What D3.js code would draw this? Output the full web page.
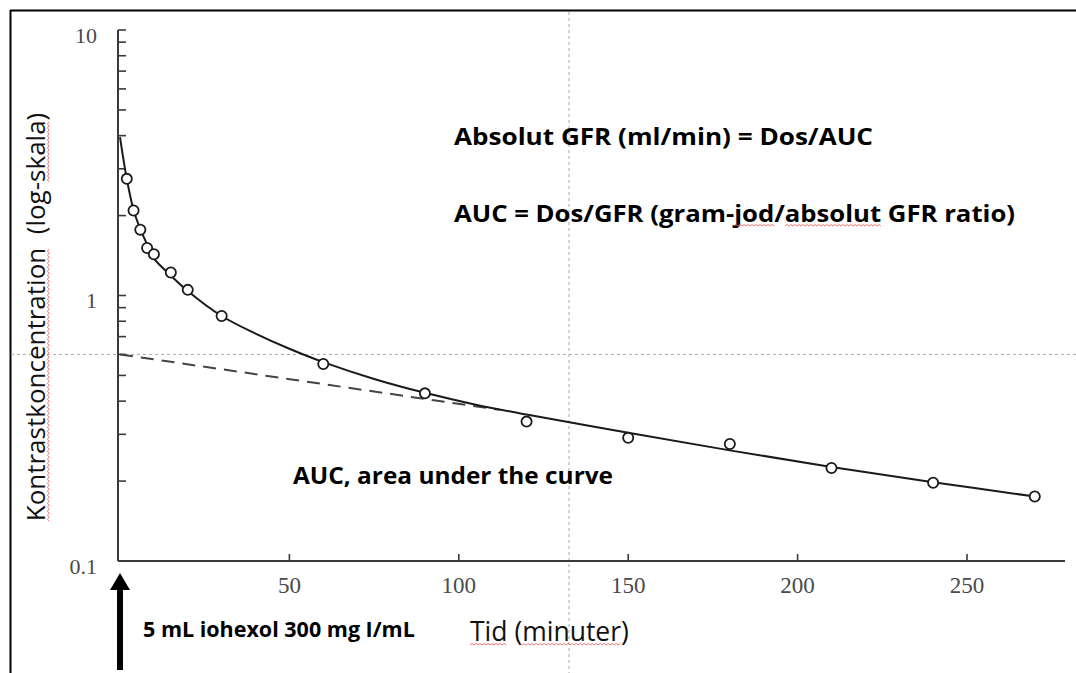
<!DOCTYPE html>
<html>
<head>
<meta charset="utf-8">
<script src="https://cdn.jsdelivr.net/npm/d3@7"></script>
<style>
  body { margin: 0; background: #fff; }
  svg { display: block; }
</style>
</head>
<body>
<svg id="chart" width="1076" height="673"></svg>
<script>
// measured samples (minutes / concentration)
const sampleTimes = [2, 4, 6, 8, 10, 15, 20, 30, 60, 90, 120, 150, 180, 210, 240, 270];
const sampleConc = [2.75, 2.09, 1.77, 1.51, 1.43, 1.22, 1.05, 0.837, 0.552, 0.428, 0.335, 0.291, 0.276, 0.224, 0.197, 0.175];

// fitted curve
const fitTimes = [0, 2, 4, 6, 8, 10, 15, 20, 30, 40, 50, 60, 75, 90, 105, 120, 150, 180, 210, 240, 270];
const fitConc = [3.95, 2.75, 2.1, 1.78, 1.56, 1.38, 1.19, 1.04, 0.837, 0.719, 0.63, 0.561, 0.485, 0.43, 0.388, 0.356, 0.304, 0.261, 0.226, 0.198, 0.175];

// terminal slope extrapolated back to t=0 (dashed)
const slowTimes = [0, 112];
const slowConc = [0.6, 0.371];

const xTicks = [50, 100, 150, 200, 250];
const yMajor = [10, 1, 0.1];
const yLabels = ["10", "1", "0.1"];
const yMinor = [9, 8, 7, 6, 5, 4, 3, 2, 0.9, 0.8, 0.7, 0.6, 0.5, 0.4, 0.3, 0.2];

const svg = d3.select("#chart");

const x = d3.scaleLinear().domain([0, 250]).range([120, 967]);
const y = d3.scaleLog().domain([0.1, 10]).range([561, 30]);
const axisX0 = 118, axisXEnd = 1065;

// frame
svg.append("line").attr("x1", 10).attr("y1", 10.5).attr("x2", 1076).attr("y2", 10.5)
    .attr("stroke", "#000").attr("stroke-width", 2);
svg.append("line").attr("x1", 10.5).attr("y1", 10).attr("x2", 10.5).attr("y2", 673)
    .attr("stroke", "#000").attr("stroke-width", 2);

// guide lines (dotted)
svg.append("line").attr("x1", 11).attr("x2", 1076).attr("y1", y(0.6)).attr("y2", y(0.6))
    .attr("stroke", "#a8a8a8").attr("stroke-width", 1).attr("stroke-dasharray", "3,3");
svg.append("line").attr("x1", 569).attr("x2", 569).attr("y1", 12).attr("y2", 673)
    .attr("stroke", "#a8a8a8").attr("stroke-width", 1).attr("stroke-dasharray", "3,3");

// axes
const axisColor = "#3a3a3a";
const yAxis = svg.append("g").attr("transform", `translate(${axisX0},0)`);
yAxis.append("line").attr("x1", 0).attr("x2", 0).attr("y1", y(10)).attr("y2", y(0.1))
    .attr("stroke", axisColor).attr("stroke-width", 2);
yAxis.selectAll(".tk").data(yMajor.concat(yMinor)).enter().append("line")
    .attr("x1", 0).attr("x2", 8)
    .attr("y1", d => y(d)).attr("y2", d => y(d))
    .attr("stroke", axisColor).attr("stroke-width", 1.6);
svg.selectAll(".ylab").data(yMajor).enter().append("text")
    .attr("x", 97).attr("y", d => y(d) + 12.5)
    .attr("text-anchor", "end")
    .attr("font-family", "Liberation Serif, Times New Roman, serif")
    .attr("font-size", 22).attr("fill", "#4a4a4a")
    .text((d, i) => yLabels[i]);

const xAxis = svg.append("g").attr("transform", `translate(0,${y(0.1)})`);
xAxis.append("line").attr("x1", axisX0).attr("x2", axisXEnd).attr("y1", 0).attr("y2", 0)
    .attr("stroke", axisColor).attr("stroke-width", 2);
xAxis.selectAll(".tk").data(xTicks).enter().append("line")
    .attr("x1", d => x(d)).attr("x2", d => x(d)).attr("y1", 0).attr("y2", -7)
    .attr("stroke", axisColor).attr("stroke-width", 1.6);
xAxis.selectAll(".lab").data(xTicks).enter().append("text")
    .attr("x", d => x(d)).attr("y", 32)
    .attr("text-anchor", "middle")
    .attr("font-family", "Liberation Serif, Times New Roman, serif")
    .attr("font-size", 23).attr("fill", "#4a4a4a")
    .text(d => d);

// dashed mono-exponential
svg.append("path")
    .datum(slowTimes.map((t, i) => [t, slowConc[i]]))
    .attr("fill", "none").attr("stroke", "#444").attr("stroke-width", 2)
    .attr("stroke-dasharray", "13,8")
    .attr("d", d3.line().x(d => x(d[0])).y(d => y(d[1])));

// fitted curve
svg.append("path")
    .datum(fitTimes.map((t, i) => [t, fitConc[i]]))
    .attr("fill", "none").attr("stroke", "#1a1a1a").attr("stroke-width", 2)
    .attr("d", d3.line().x(d => x(d[0])).y(d => y(d[1])).curve(d3.curveCatmullRom.alpha(0.5)));

// samples
svg.selectAll(".pt").data(sampleTimes.map((t, i) => [t, sampleConc[i]])).enter()
    .append("circle")
    .attr("cx", d => x(d[0])).attr("cy", d => y(d[1])).attr("r", 5.1)
    .attr("fill", "#fff").attr("stroke", "#1a1a1a").attr("stroke-width", 1.8);

// red spell-check squiggle under part of a text element (local coords)
function squiggle(parent, textEl, from, to) {
    const node = textEl.node();
    const a = node.getStartPositionOfChar(from);
    const b = node.getEndPositionOfChar(to - 1);
    const yy = a.y + 4;
    let d = `M${a.x},${yy}`;
    let up = true;
    for (let xx = a.x + 2; xx <= b.x; xx += 2) {
        d += `L${xx},${up ? yy - 1.5 : yy}`;
        up = !up;
    }
    parent.append("path").attr("d", d).attr("fill", "none")
        .attr("stroke", "#f07070").attr("stroke-width", 1);
}

const sans = "Open Sans, Noto Sans, sans-serif";

// y title
const yTitleG = svg.append("g").attr("transform", "translate(45,317) rotate(-90)");
const yTitleStr = "Kontrastkoncentration  (log-skala)";
const yTitle = yTitleG.append("text")
    .attr("x", 0).attr("y", 0).attr("text-anchor", "middle")
    .attr("font-family", sans).attr("font-size", 26).attr("fill", "#111")
    .attr("xml:space", "preserve").style("white-space", "pre")
    .text(yTitleStr);
squiggle(yTitleG, yTitle, 0, 21);
squiggle(yTitleG, yTitle, yTitleStr.indexOf("skala"), yTitleStr.indexOf("skala") + 5);

// x title
const xTitleStr = "Tid (minuter)";
const xTitle = svg.append("text")
    .attr("x", 470).attr("y", 641)
    .attr("font-family", sans).attr("font-size", 26.5).attr("fill", "#111")
    .text(xTitleStr);
squiggle(svg, xTitle, 0, 3);
squiggle(svg, xTitle, 5, 12);

// annotations (Calibri-like wide bold: stretch to the reference width)
function boldText(str, tx, ty, size, len) {
    return svg.append("text").attr("x", tx).attr("y", ty)
        .attr("font-family", sans).attr("font-weight", "bold").attr("font-size", size)
        .attr("fill", "#000")
        .attr("textLength", len).attr("lengthAdjust", "spacingAndGlyphs")
        .text(str);
}
boldText("Absolut GFR (ml/min) = Dos/AUC", 454, 145, 23, 419);
const f2Str = "AUC = Dos/GFR (gram-jod/absolut GFR ratio)";
const f2 = boldText(f2Str, 454, 222, 23, 561);
squiggle(svg, f2, f2Str.indexOf("jod"), f2Str.indexOf("jod") + 3);
squiggle(svg, f2, f2Str.indexOf("absolut"), f2Str.indexOf("absolut") + 7);

boldText("AUC, area under the curve", 293, 484, 23.5, 320);

svg.append("text").attr("x", 143).attr("y", 637)
    .attr("font-family", sans).attr("font-weight", "bold").attr("font-size", 21.5).attr("fill", "#000")
    .text("5 mL iohexol 300 mg I/mL");

// injection arrow at t=0
const ax = x(0);
svg.append("path")
    .attr("d", `M${ax - 3},670 L${ax - 3},590 L${ax - 10},590 L${ax},573 L${ax + 10},590 L${ax + 3},590 L${ax + 3},670 Z`)
    .attr("fill", "#000");
</script>
</body>
</html>
